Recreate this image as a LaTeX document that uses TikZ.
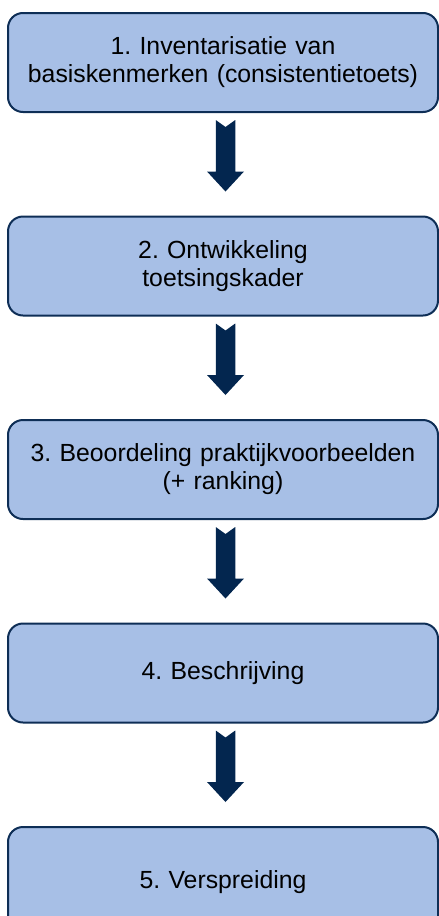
\documentclass[tikz,border=0pt]{standalone}
\usepackage{fontspec}
\setmainfont{Liberation Sans}
\usepackage{tikz}
\usetikzlibrary{positioning,calc}
\definecolor{stapfill}{HTML}{A7BFE6}
\definecolor{staprand}{HTML}{0E2E56}
\definecolor{pijlnavy}{HTML}{03264F}
\frenchspacing
\tikzset{
  stap/.style={rounded corners=15pt, draw=staprand, line width=2pt, fill=stapfill,
               align=center, inner sep=0pt, minimum width=430pt, minimum height=99pt,
               text width=424pt, font=\fontsize{24.8}{28}\selectfont},
  blokpijl/.style={fill=pijlnavy},
}
\begin{document}
\begin{tikzpicture}[node distance=102.5pt]
\useasboundingbox (0pt,0pt) rectangle (439pt,-916pt);

\node[stap] at (223pt,-62.5pt) (b1)
  {1. Inventarisatie van\\basiskenmerken (consistentietoets)};
\node[stap, below=of b1] (b2) {2. Ontwikkeling\\toetsingskader};
\node[stap, below=of b2] (b3) {3. Beoordeling praktijkvoorbeelden\\(+ ranking)};
\node[stap, below=of b3] (b4) {4. Beschrijving};
\node[stap, below=of b4, minimum height=110pt] (b5) {5. Verspreiding};

% block arrows between the steps
\foreach \a/\b in {b1/b2, b2/b3, b3/b4, b4/b5}{
  \fill[blokpijl] let \p1=($(\a.south)+(2.5pt,0pt)$), \p2=(\b.north) in
    (\x1-9.75pt,\y1-7pt) -- (\x1,\y1-14pt) -- (\x1+9.75pt,\y1-7pt)
    -- (\x1+9.75pt,\y2+44pt) -- (\x1+18.5pt,\y2+44pt) -- (\x1,\y2+24pt)
    -- (\x1-18.5pt,\y2+44pt) -- (\x1-9.75pt,\y2+44pt) -- cycle;}
\end{tikzpicture}
\end{document}
